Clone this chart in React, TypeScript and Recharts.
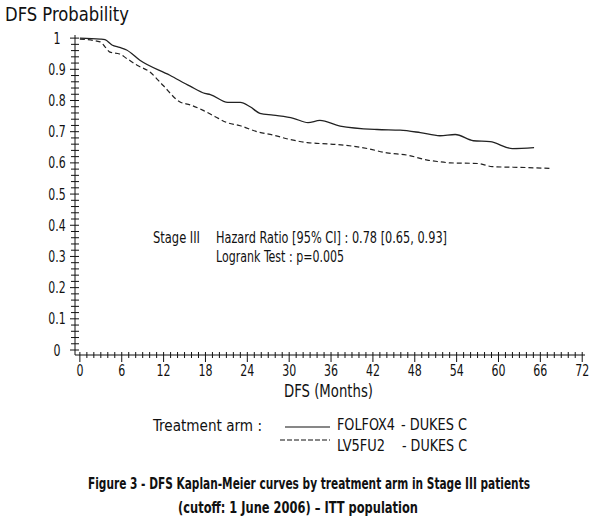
import React from "react";
import { LineChart, Line, XAxis, YAxis } from "recharts";

const folfoxMonths = [0, 2.9, 3.6, 4.6, 5.7, 6.7, 8.6, 12.9, 15.8, 17.9, 18.7, 21.2, 23, 24.4, 25.8, 27.7, 30.6, 32.7, 34.4, 37.3, 42.6, 45.9, 48.8, 51.6, 53.8, 56.4, 58.8, 62, 65.1];
const folfoxSurv = [1.0, 0.997, 0.995, 0.978, 0.97, 0.962, 0.929, 0.881, 0.846, 0.823, 0.819, 0.794, 0.794, 0.78, 0.759, 0.753, 0.743, 0.729, 0.736, 0.718, 0.707, 0.705, 0.697, 0.687, 0.691, 0.671, 0.668, 0.646, 0.649];

const lv5fu2Months = [0, 2.9, 3.6, 4.3, 5.7, 6.7, 8.2, 10, 11.9, 14.3, 15.8, 17.6, 19.4, 21.1, 23, 25.4, 27.7, 30.1, 32.6, 34.4, 36.9, 41.2, 44, 46.9, 49.8, 51.4, 53.1, 57.1, 59.1, 64.1, 67.6];
const lv5fu2Surv = [0.997, 0.988, 0.972, 0.955, 0.949, 0.935, 0.913, 0.892, 0.849, 0.796, 0.786, 0.769, 0.748, 0.729, 0.719, 0.7, 0.689, 0.675, 0.665, 0.662, 0.659, 0.646, 0.632, 0.625, 0.609, 0.604, 0.6, 0.598, 0.588, 0.585, 0.582];

const xMajorTicks = [0, 6, 12, 18, 24, 30, 36, 42, 48, 54, 60, 66, 72];
const yMajorTicks = [0, 0.1, 0.2, 0.3, 0.4, 0.5, 0.6, 0.7, 0.8, 0.9, 1];
const yTickLabels = ["0", "0.1", "0.2", "0.3", "0.4", "0.5", "0.6", "0.7", "0.8", "0.9", "1"];

const xAllTicks: number[] = [];
for (let k = 0; k <= 72; k++) xAllTicks.push(k);
const yAllTicks: number[] = [];
for (let k = 0; k <= 50; k++) yAllTicks.push(k / 50);

const folfoxData = folfoxMonths.map((m, i) => ({ m, v: folfoxSurv[i] }));
const lv5fu2Data = lv5fu2Months.map((m, i) => ({ m, v: lv5fu2Surv[i] }));

const FONT = "'DejaVu Sans Condensed', 'Liberation Sans Narrow', 'Roboto', sans-serif";

const labelWidth = (s: string) => {
  let w = 0;
  for (const ch of s) w += ch === "." ? 3.4 : 7.0;
  return w;
};

const XTick = (props: any) => {
  const { x, y, payload } = props;
  const val = payload.value;
  const major = xMajorTicks.includes(val);
  const s = String(val);
  return (
    <g>
      <line x1={x} x2={x} y1={y - 3} y2={major ? y + 7 : y + 3} stroke="#111" strokeWidth={1} />
      {major && (
        <text x={x} y={y + 15} textAnchor="middle" dominantBaseline="central" fontFamily={FONT} fontSize={16} fill="#111"
          textLength={labelWidth(s)} lengthAdjust="spacingAndGlyphs">
          {s}
        </text>
      )}
    </g>
  );
};

const YTick = (props: any) => {
  const { x, y, payload } = props;
  const val = payload.value;
  const idx = yMajorTicks.findIndex((t) => Math.abs(t - val) < 1e-6);
  const major = idx >= 0;
  return (
    <g>
      <line x1={major ? x - 5 : x - 4} x2={x + 4} y1={y} y2={y} stroke="#111" strokeWidth={1} />
      {major && (
        <text x={x - 18} y={y} textAnchor="middle" dominantBaseline="central" fontFamily={FONT} fontSize={16} fill="#111"
          textLength={labelWidth(yTickLabels[idx])} lengthAdjust="spacingAndGlyphs">
          {yTickLabels[idx]}
        </text>
      )}
    </g>
  );
};

const T = (p: any) => {
  const sx = p.sx || 1;
  return (
    <text transform={`translate(${p.x},${p.y}) scale(${sx},1)`} x={0} y={0} fontSize={p.size}
      fontWeight={p.bold ? "bold" : "normal"} textAnchor={p.anchor || "start"}
      dominantBaseline="central" textLength={p.w / sx} lengthAdjust="spacingAndGlyphs">
      {p.children}
    </text>
  );
};

export default function App() {
  return (
    <div style={{ position: "absolute", left: 0, top: 0, width: 601, height: 525, background: "#fff" }}>
      <LineChart
        width={601}
        height={525}
        margin={{ top: 35, right: 16, left: 35, bottom: 140 }}
      >
        <XAxis
          xAxisId="bottom"
          type="number"
          dataKey="m"
          domain={[-0.7, 72.4]}
          ticks={xAllTicks}
          interval={0}
          tick={<XTick />}
          tickLine={false}
          tickSize={0}
          tickMargin={0}
          height={30}
          axisLine={{ stroke: "#111", strokeWidth: 1 }}
          allowDataOverflow
        />
        <XAxis
          xAxisId="top"
          orientation="top"
          type="number"
          dataKey="m"
          domain={[-0.7, 72.4]}
          tick={false}
          tickLine={false}
          height={0}
          axisLine={{ stroke: "#555", strokeWidth: 1.5 }}
        />
        <YAxis
          yAxisId="left"
          type="number"
          domain={[-0.016, 1.01]}
          ticks={yAllTicks}
          interval={0}
          tick={<YTick />}
          tickLine={false}
          tickSize={0}
          tickMargin={0}
          width={40}
          axisLine={{ stroke: "#111", strokeWidth: 1 }}
          allowDataOverflow
        />
        <YAxis
          yAxisId="right"
          orientation="right"
          type="number"
          domain={[-0.016, 1.01]}
          tick={false}
          tickLine={false}
          width={0}
          axisLine={{ stroke: "#777", strokeWidth: 1.5 }}
        />
        <Line
          xAxisId="bottom"
          yAxisId="left"
          data={folfoxData}
          dataKey="v"
          type="monotone"
          stroke="#222"
          strokeWidth={1.3}
          dot={false}
          isAnimationActive={false}
        />
        <Line
          xAxisId="bottom"
          yAxisId="left"
          data={lv5fu2Data}
          dataKey="v"
          type="monotone"
          stroke="#222"
          strokeWidth={1.2}
          strokeDasharray="5 3"
          dot={false}
          isAnimationActive={false}
        />
      </LineChart>
      <svg width={601} height={525} style={{ position: "absolute", left: 0, top: 0, pointerEvents: "none" }}>
        <g fontFamily={FONT} fill="#111">
          <T x={5} y={14} size={19} w={124}>DFS Probability</T>
          <T x={328.5} y={391} size={17} w={89} anchor="middle">DFS (Months)</T>
          <T x={153} y={238} size={15} w={47}>Stage III</T>
          <T x={216} y={238} size={15} w={231}>Hazard Ratio [95% CI] : 0.78 [0.65, 0.93]</T>
          <T x={216} y={257} size={15} w={128}>Logrank Test : p=0.005</T>
          <T x={153} y={425} size={16} w={109}>Treatment arm :</T>
          <line x1={285} x2={330} y1={427} y2={427} stroke="#111" strokeWidth={1.2} />
          <T x={337} y={424} size={16} w={58}>FOLFOX4</T>
          <T x={401} y={424} size={16} w={66}>- DUKES C</T>
          <line x1={280} x2={330} y1={440} y2={440} stroke="#111" strokeWidth={1.2} strokeDasharray="5 2" />
          <T x={337} y={445} size={16} w={48}>LV5FU2</T>
          <T x={402} y={445} size={16} w={65}>- DUKES C</T>
          <T x={309} y={484} size={15} bold w={442} sx={0.75} anchor="middle">Figure 3 - DFS Kaplan-Meier curves by treatment arm in Stage III patients</T>
          <T x={298} y={507} size={15} bold w={240} sx={0.8} anchor="middle">(cutoff: 1 June 2006) – ITT population</T>
        </g>
      </svg>
    </div>
  );
}
